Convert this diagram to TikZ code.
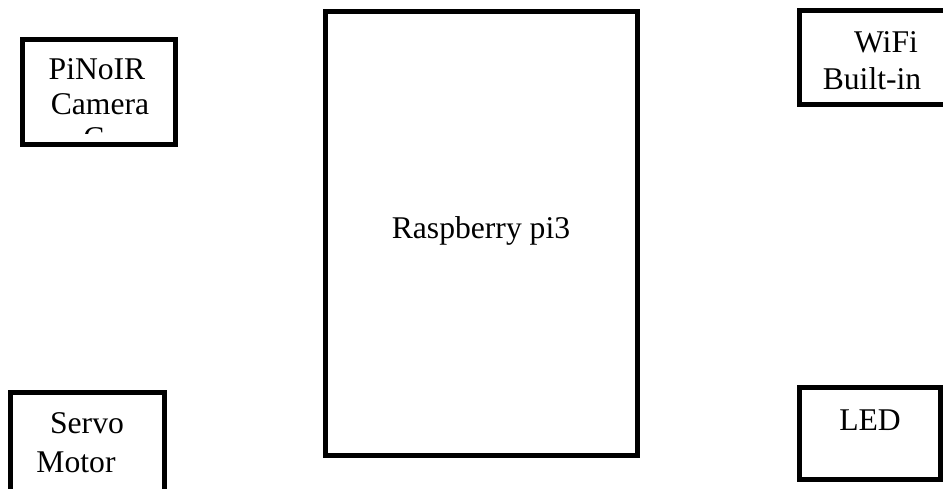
\documentclass[tikz,border=0pt]{standalone}
\usepackage{fontspec}
\setmainfont{Liberation Serif}
\usepackage{tikz}
\usetikzlibrary{positioning}

\begin{document}
\begin{tikzpicture}[
  x=0.02cm, y=-0.02cm,
  unit/.style={draw, line width=2.8pt, rectangle, inner sep=0pt},
  lbl/.style={anchor=base, inner sep=0pt, font=\fontsize{18}{20}\selectfont}
]
\useasboundingbox (0,0) rectangle (943,489);
\clip (0,0) rectangle (943,489);

% boxes
\node[unit, minimum width=6.24cm, minimum height=8.88cm] (rpi) at (481.5,233.5) {};
\node[unit, minimum width=3.06cm, minimum height=2.1cm] (cam) at (99,92) {};
\node[unit, minimum width=3.02cm, minimum height=1.88cm] (wifi) at (875,57.5) {};
\node[unit, minimum width=3.08cm, minimum height=2.15cm] (servo) at (87.5,446.25) {};
\node[unit, minimum width=2.82cm, minimum height=1.84cm] (led) at (870,433.5) {};

% labels
\node[lbl] (rpitext) at (481,239) {Raspberry pi3};
\node[lbl] (camtop) at (97,80) {PiNoIR};
\node[lbl] (cambot) at (100,115) {Camera};
\begin{scope}
  \clip (30,45) rectangle (170,134);
  \node[lbl] (camcut) at (94,149) {C};
\end{scope}
\node[lbl] (wifitop) at (886,53) {WiFi};
\node[lbl] (wifibot) at (872,90) {Built-in};
\node[lbl] (servotop) at (87,433) {Servo};
\node[lbl] (servobot) at (76,472) {Motor};
\node[lbl] (ledtext) at (870,430) {LED};
\end{tikzpicture}
\end{document}
